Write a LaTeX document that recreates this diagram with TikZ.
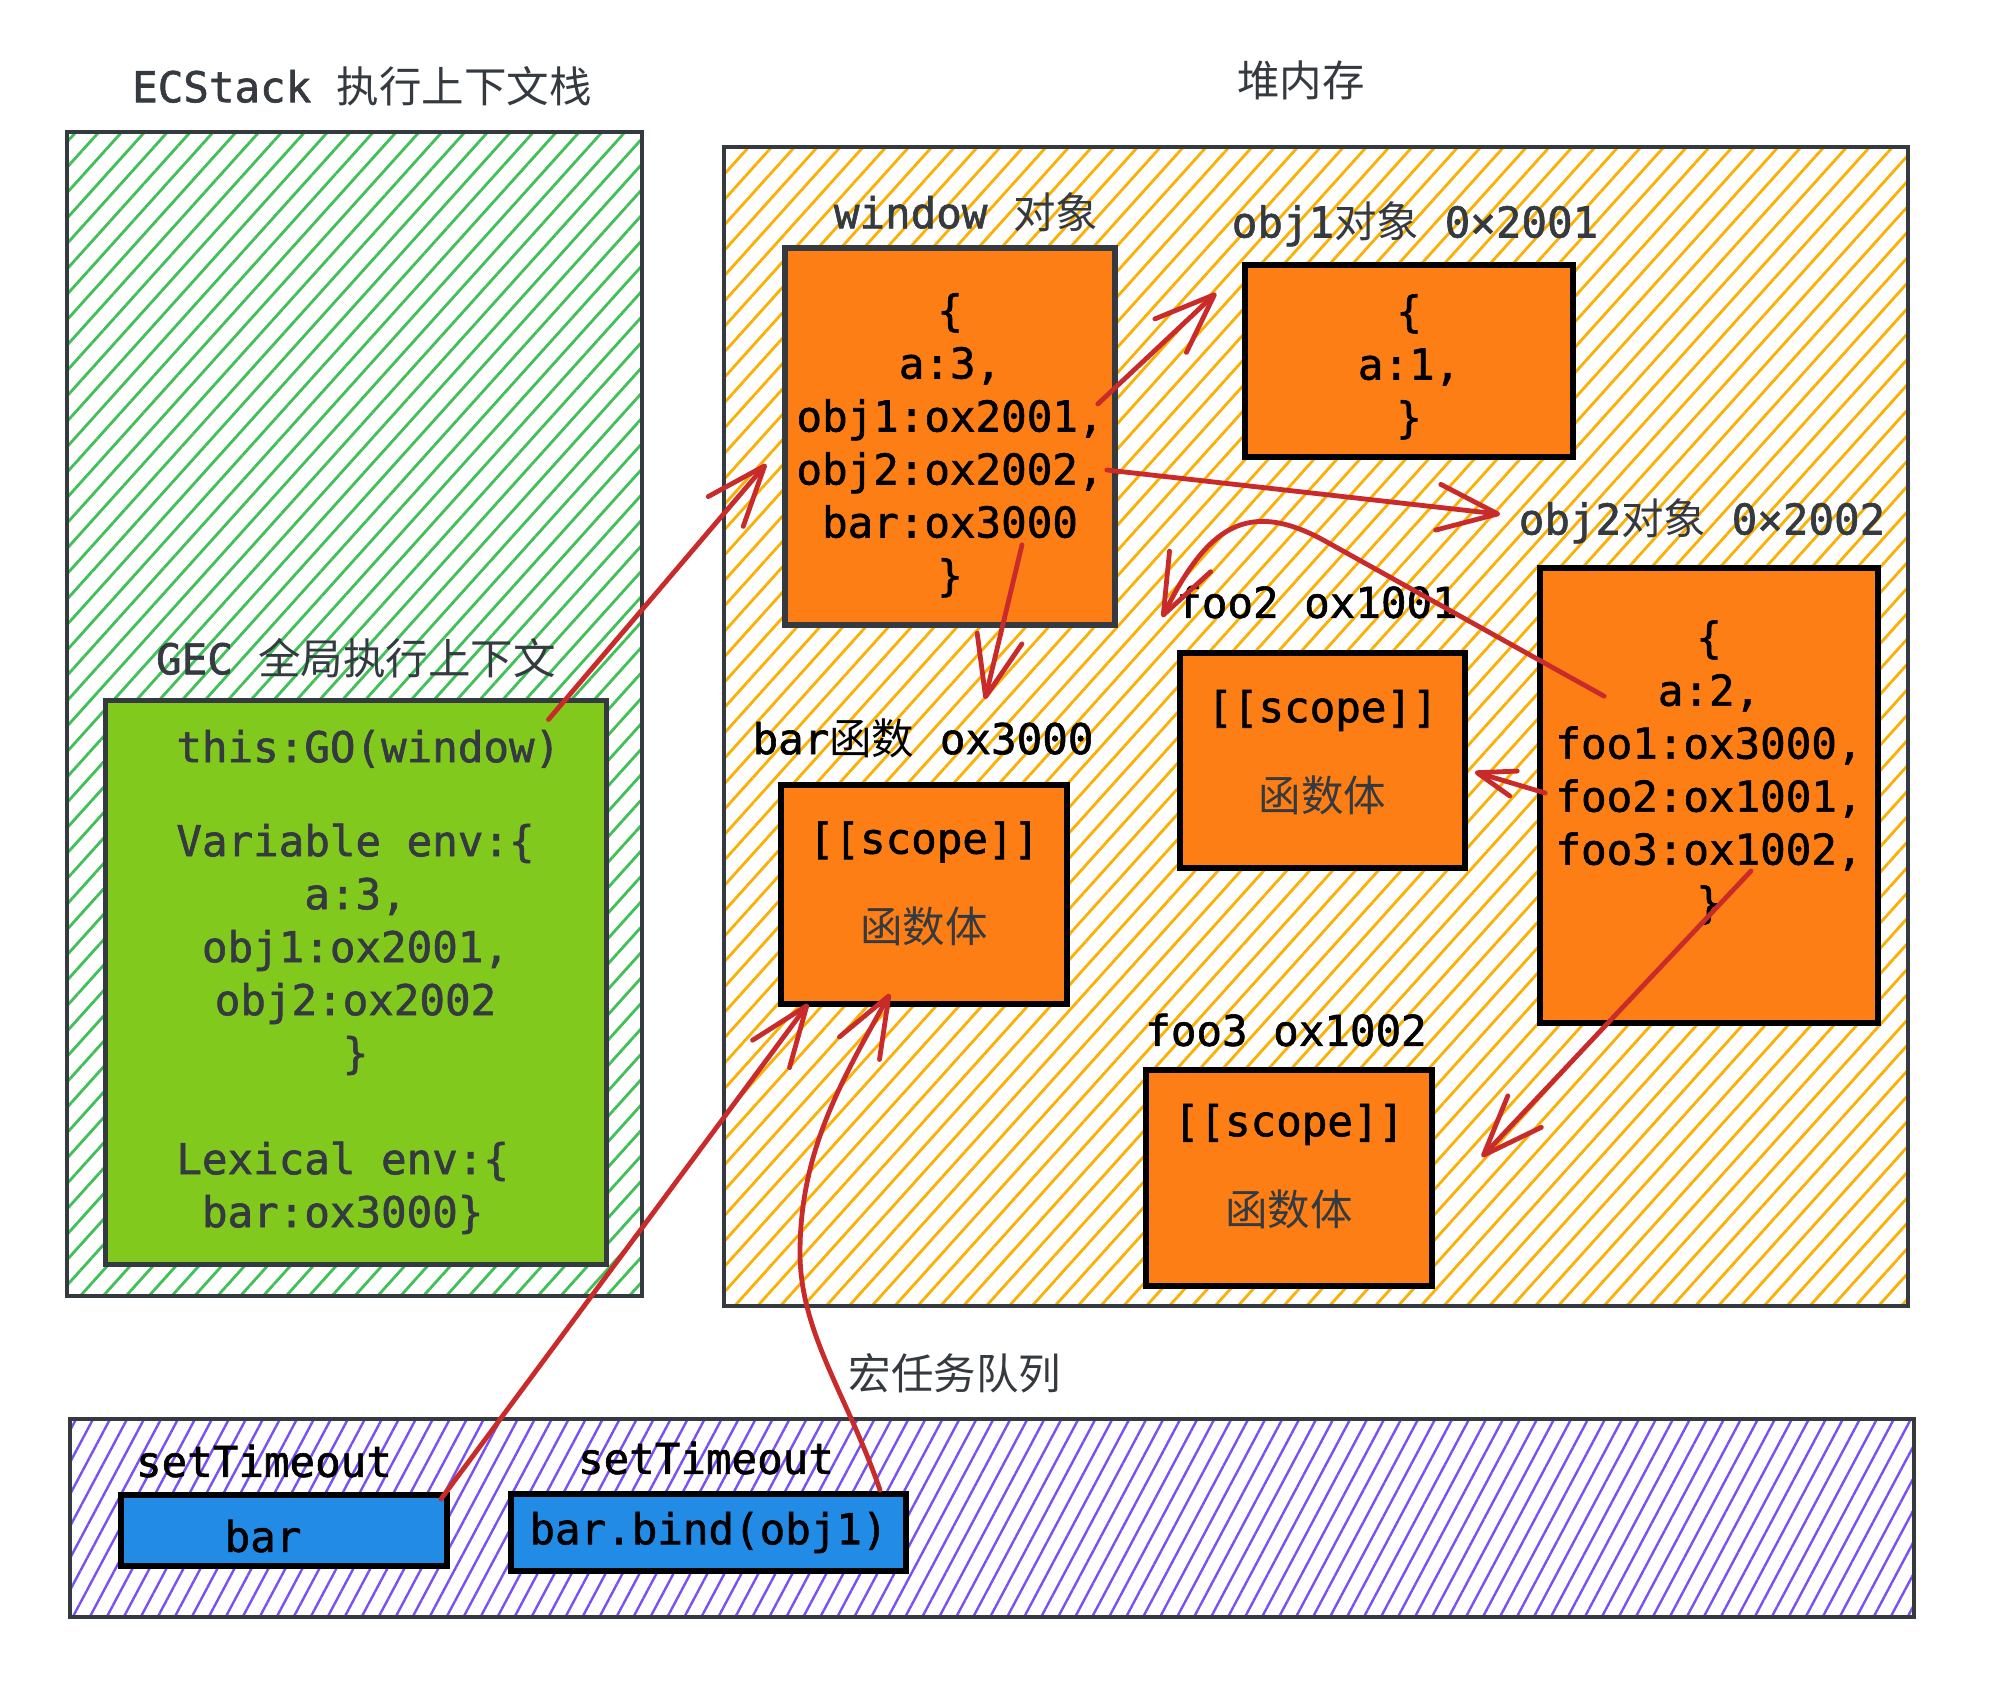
\documentclass[tikz,border=0pt]{standalone}
\usepackage{fontspec}
\setmonofont{DejaVu Sans Mono}[FakeBold=1.4]
\newfontfamily\cjk{Noto Sans CJK SC}
\usetikzlibrary{arrows.meta,patterns.meta,calc}
\definecolor{dk}{HTML}{343A40}
\definecolor{ared}{HTML}{C92A2A}
\definecolor{orng}{HTML}{FD7E14}
\definecolor{grn}{HTML}{82C91E}
\definecolor{blu}{HTML}{228BE6}
\definecolor{hgreen}{HTML}{40C057}
\definecolor{hyellow}{HTML}{FAB005}
\definecolor{hpurple}{HTML}{7950F2}
\begin{document}
\begin{tikzpicture}[x=0.5pt,y=-0.5pt,
  every node/.style={font=\ttfamily\fontsize{21.25}{26.5}\selectfont},
  container/.style={rectangle, draw=dk, line width=2pt, inner sep=0pt},
  obox/.style={rectangle, draw=black, fill=orng, line width=2.8pt, inner sep=0pt, align=center, text=black},
  bbox/.style={rectangle, draw=black, fill=blu, line width=3pt, inner sep=0pt, align=center, text=black},
  lbl/.style={text=dk},
  blk/.style={text=black},
  arr/.style={draw=ared, line width=2.4pt, line cap=round, line join=round, -{Straight Barb[length=30pt,width=23pt,round]}},
  sarr/.style={arr, -{Straight Barb[length=19pt,width=13pt,round]}}
]
\useasboundingbox[fill=white] (0,0) rectangle (1992,1690);

% containers
\node[container, pattern={Lines[angle=48,distance=8.5pt,line width=1.4pt]}, pattern color=hgreen,
  minimum width=287.5pt, minimum height=582pt] (ecs) at (354.5,714) {};
\node[container, pattern={Lines[angle=48,distance=8.5pt,line width=1.4pt]}, pattern color=hyellow,
  minimum width=592pt, minimum height=579.5pt] (heap) at (1316,726.5) {};
\node[container, pattern={Lines[angle=62,distance=7.5pt,line width=1.2pt]}, pattern color=hpurple,
  minimum width=922pt, minimum height=99pt] (queue) at (992,1518) {};

% titles
\node[lbl] (tecs) at (362,86) {ECStack {\cjk 执行上下文栈}};
\node[lbl] (theap) at (1301,80) {\cjk 堆内存};
\node[lbl] (tgec) at (356,658) {GEC {\cjk 全局执行上下文}};
\node[lbl] (tq) at (955,1373) {\cjk 宏任务队列};

% GEC
\node[rectangle, draw=dk, fill=grn, line width=2.5pt, inner sep=0pt, align=center, text=dk,
  minimum width=250.5pt, minimum height=282pt] (gec) at (355.5,982)
  {\hphantom{x}this:GO(window)\\[20.5pt]Variable env:\{\\a:3,\\obj1:ox2001,\\obj2:ox2002\\\}\\[26.5pt]Lexical env:\{\hphantom{x}\\bar:ox3000\}\hphantom{x}};

% heap labels
\node[lbl] (twin) at (966,212) {window {\cjk 对象}};
\node[lbl] (tobj1) at (1415,224) {obj1{\cjk 对象} 0×2001};
\node[lbl] (tobj2) at (1702,521) {obj2{\cjk 对象} 0×2002};
\node[blk] (tfoo2) at (1317,602) {foo2 ox1001};
\node[blk] (tbarf) at (923,738) {bar{\cjk 函数} ox3000};
\node[blk] (tfoo3) at (1286,1030) {foo3 ox1002};

% heap boxes
\node[obox, draw=dk, minimum width=165pt, minimum height=188.5pt] (win) at (950,436.5)
  {\rule{0pt}{25pt}\{\\a:3,\\obj1:ox2001,\\obj2:ox2002,\\bar:ox3000\\\}};
\node[obox, minimum width=164pt, minimum height=96pt] (obj1) at (1409,361)
  {\rule{0pt}{22pt}\{\\a:1,\\\}};
\node[obox, minimum width=169pt, minimum height=227.5pt] (obj2) at (1709,795.5)
  {\{\\a:2,\\foo1:ox3000,\\foo2:ox1001,\\foo3:ox1002,\\\}\\\mbox{}};
\node[obox, minimum width=142.5pt, minimum height=107.5pt] (foo2) at (1322.5,760.5)
  {[[scope]]\\[18pt]{\cjk\color{dk}函数体}\\[-16.5pt]\mbox{}};
\node[obox, minimum width=143pt, minimum height=109.5pt] (barf) at (924,894.5)
  {[[scope]]\\[18pt]{\cjk\color{dk}函数体}\\[-14pt]\mbox{}};
\node[obox, minimum width=143pt, minimum height=108pt] (foo3) at (1289,1178)
  {[[scope]]\\[18pt]{\cjk\color{dk}函数体}\\[-13pt]\mbox{}};

% queue
\node[blk] (tst1) at (264,1461) {setTimeout};
\node[blk] (tst2) at (706,1458) {setTimeout};
\node[bbox, minimum width=163pt, minimum height=35.5pt] (tbar) at (284,1530.5) {};
\node[blk] (tbartxt) at (263,1536) {bar};
\node[bbox, minimum width=197.5pt, minimum height=38.5pt] (tbind) at (708.5,1532.5) {bar.bind(obj1)};

% arrows
\draw[arr] ($(gec.north east)+(-60,22)$) -- ($(win.west)+(-16,27.5)$);
\draw[arr] ($(win.east)+(-20,-32.5)$) -- ($(obj1.west)+(-26,-68)$);
\draw[arr] ($(win.east)+(-11,33.5)$) -- ($(obj2.north west)+(-37,-51)$);
\draw[arr] ($(win.south)+(72,-83)$) -- ($(barf.north)+(61,-83)$);
\draw[arr] ($(obj2.north west)+(67,131)$) -- ++(-277,-154)
   .. controls +(-80,-45) and +(45,-90) .. ($(foo2.north west)+(-15,-33)$);
\draw[sarr] ($(obj2.west)+(8,-2.5)$) -- ($(foo2.east)+(7,11.5)$);
\draw[arr] ($(obj2.center)+(42,75.5)$) -- ($(foo3.east)+(47,-21)$);
\draw[arr] ($(tbar.north east)+(-9,7)$) -- ($(barf.south west)+(30,-3)$);
\coordinate (a9m) at ($(barf.south)+(-124,246)$);
\draw[arr] ($(tbind.north east)+(-29,-1)$) .. controls +(-32,-93) and +(0,80) .. (a9m)
   .. controls +(0,-100) and +(-50,89) .. ($(barf.south)+(-34,-13)$);
\end{tikzpicture}
\end{document}
